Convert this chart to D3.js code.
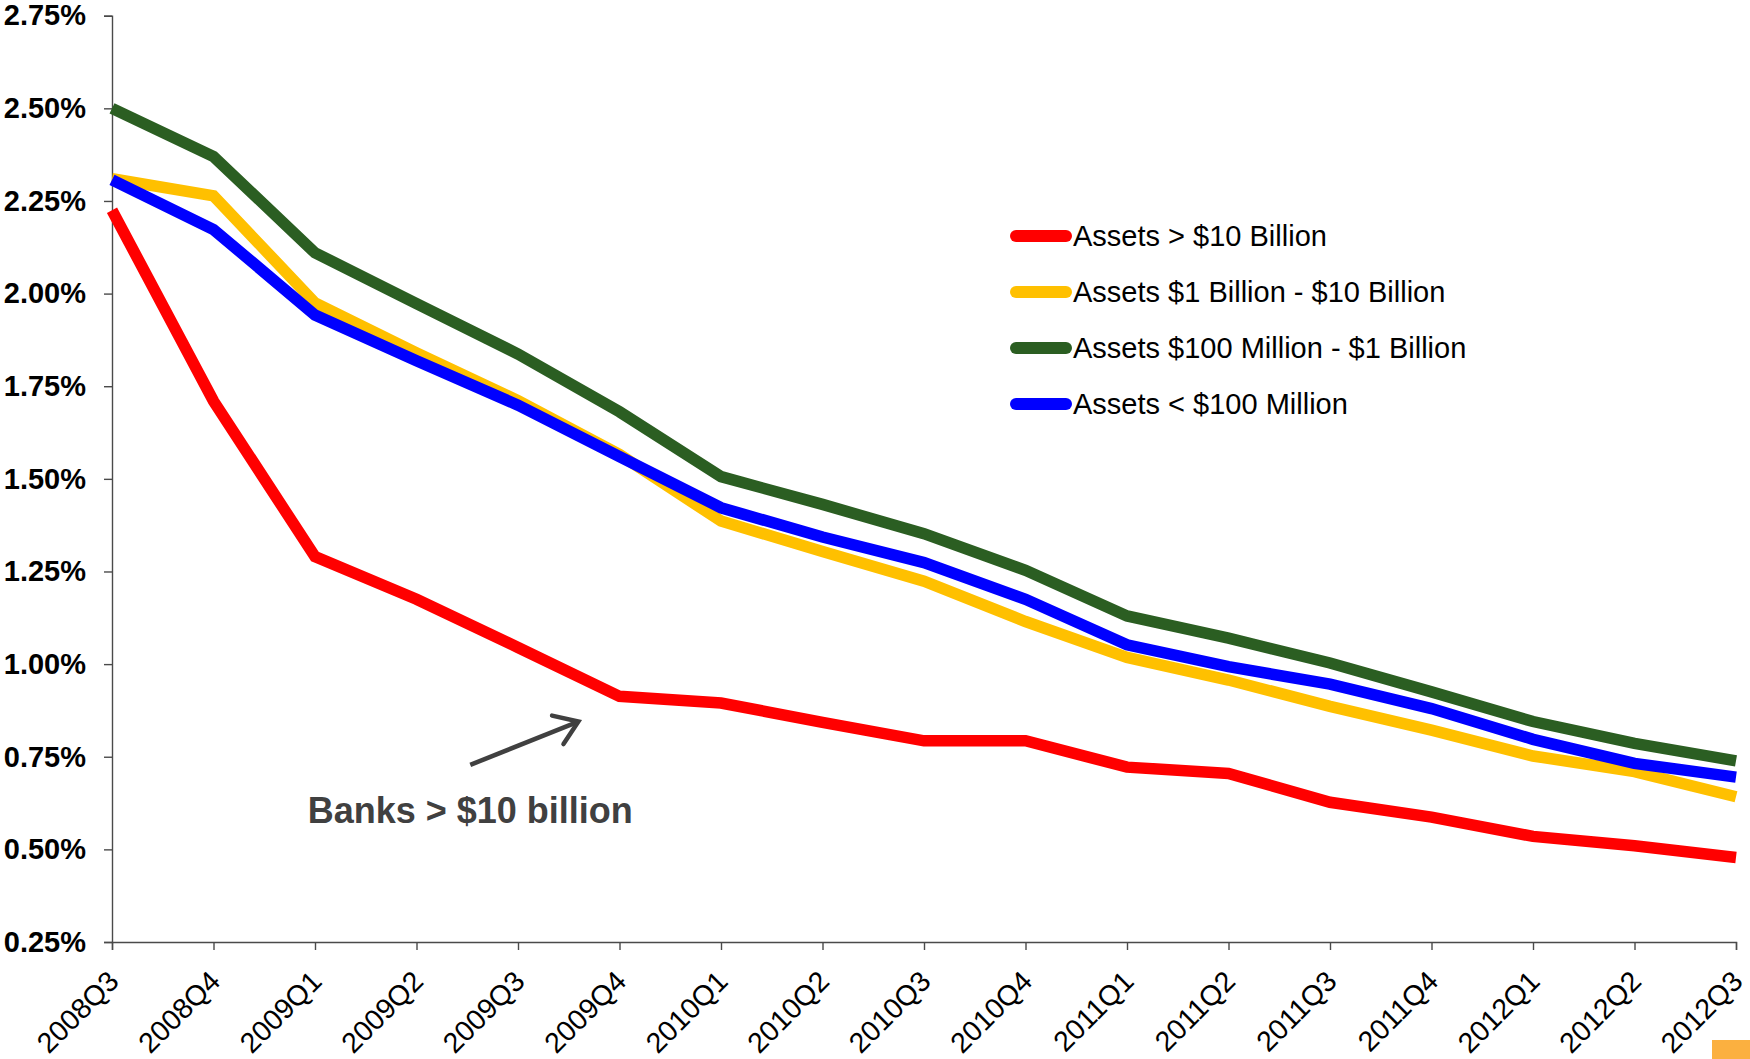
<!DOCTYPE html>
<html>
<head>
<meta charset="utf-8">
<script src="https://cdn.jsdelivr.net/npm/d3@7"></script>
<style>
  html, body { margin: 0; padding: 0; background: #ffffff; }
  svg { display: block; font-family: "Liberation Sans", Arial, sans-serif; }
</style>
</head>
<body>
<svg id="chart" width="1750" height="1059"></svg>
<script>
// Quarterly ratios (percent) by bank asset size
const quarters = ["2008Q3", "2008Q4", "2009Q1", "2009Q2", "2009Q3", "2009Q4",
  "2010Q1", "2010Q2", "2010Q3", "2010Q4", "2011Q1", "2011Q2", "2011Q3",
  "2011Q4", "2012Q1", "2012Q2", "2012Q3"];

const over10B = [2.225, 1.71, 1.29, 1.175, 1.045, 0.913, 0.895, 0.843, 0.793, 0.793,
  0.722, 0.705, 0.627, 0.587, 0.535, 0.51, 0.478];
const from1Bto10B = [2.31, 2.264, 1.975, 1.84, 1.711, 1.566, 1.386, 1.304, 1.224, 1.115,
  1.018, 0.957, 0.886, 0.822, 0.752, 0.71, 0.642];
const from100Mto1B = [2.50, 2.37, 2.11, 1.973, 1.837, 1.681, 1.506, 1.431, 1.352, 1.253,
  1.13, 1.07, 1.003, 0.925, 0.845, 0.786, 0.739];
const under100M = [2.307, 2.173, 1.942, 1.819, 1.699, 1.56, 1.422, 1.343, 1.274, 1.175,
  1.052, 0.993, 0.946, 0.88, 0.797, 0.732, 0.695];

const seriesNames = ["Assets > $10 Billion", "Assets $1 Billion - $10 Billion",
  "Assets $100 Million - $1 Billion", "Assets < $100 Million"];
const seriesColors = ["#ff0000", "#ffc000", "#2b5e22", "#0000ff"];
const seriesValues = [over10B, from1Bto10B, from100Mto1B, under100M];

const yTicks = [0.25, 0.5, 0.75, 1.0, 1.25, 1.5, 1.75, 2.0, 2.25, 2.5, 2.75];

const annotationText = "Banks > $10 billion";

const svg = d3.select("#chart");

const x = d3.scalePoint().domain(quarters).range([112, 1736]);
const y = d3.scaleLinear().domain([0.25, 2.75]).range([942, 15.7]);
// fractional quarter position, used for the callout
const xi = d3.scaleLinear().domain([0, quarters.length - 1]).range(x.range());

const axisColor = "#4a4a4a";

// Y axis
const yAxis = d3.axisLeft(y)
  .tickValues(yTicks)
  .tickSize(8)
  .tickPadding(18)
  .tickFormat(v => d3.format(".2%")(v / 100));
const gy = svg.append("g").attr("transform", `translate(${x.range()[0]},0)`).call(yAxis);
gy.select(".domain").attr("stroke", axisColor).attr("stroke-width", 1.4);
gy.selectAll(".tick line").attr("stroke", axisColor).attr("stroke-width", 1.4);
gy.selectAll(".tick text")
  .attr("fill", "#000")
  .style("font-size", "29px")
  .style("font-weight", "bold")
  .style("font-family", "'Liberation Sans', Arial, sans-serif");

// X axis
const xAxis = d3.axisBottom(x).tickSize(8).tickPadding(0);
const gx = svg.append("g").attr("transform", `translate(0,${y(0.25)})`).call(xAxis);
gx.select(".domain").attr("stroke", axisColor).attr("stroke-width", 1.4);
gx.selectAll(".tick line").attr("stroke", axisColor).attr("stroke-width", 1.4);
gx.selectAll(".tick text")
  .attr("fill", "#000")
  .attr("text-anchor", "end")
  .attr("dy", null)
  .attr("y", null)
  .attr("transform", "translate(8,41) rotate(-45)")
  .style("font-size", "28.5px")
  .style("font-family", "'Liberation Sans', Arial, sans-serif");

// Series lines
const line = d3.line()
  .x((d, i) => x(quarters[i]))
  .y(d => y(d));

svg.append("g").selectAll("path")
  .data(seriesValues)
  .join("path")
  .attr("d", d => line(d))
  .attr("fill", "none")
  .attr("stroke", (d, i) => seriesColors[i])
  .attr("stroke-width", 11.5)
  .attr("stroke-linejoin", "miter")
  .attr("stroke-linecap", "butt");

// Legend
const legend = svg.append("g").attr("transform", "translate(1016,236)");
const rows = legend.selectAll("g").data(seriesNames).join("g")
  .attr("transform", (d, i) => `translate(0,${i * 56})`);
rows.append("line")
  .attr("x1", 0).attr("x2", 50).attr("y1", 0).attr("y2", 0)
  .attr("stroke", (d, i) => seriesColors[i])
  .attr("stroke-width", 12)
  .attr("stroke-linecap", "round");
rows.append("text")
  .attr("x", 57).attr("y", 10)
  .attr("fill", "#000")
  .style("font-size", "29px")
  .text(d => d);

// Callout pointing at the large-bank series
const calloutColor = "#404040";
const ax0 = xi(3.53), ay0 = y(0.728), ax1 = xi(4.595), ay1 = y(0.845);
const ang = Math.atan2(ay1 - ay0, ax1 - ax0);
const head = 27, spread = Math.PI / 5.2;
svg.append("line")
  .attr("x1", ax0).attr("y1", ay0).attr("x2", ax1).attr("y2", ay1)
  .attr("stroke", calloutColor).attr("stroke-width", 4.5);
svg.append("path")
  .attr("d", `M${ax1 - head * Math.cos(ang - spread)},${ay1 - head * Math.sin(ang - spread)}
              L${ax1},${ay1}
              L${ax1 - head * Math.cos(ang + spread)},${ay1 - head * Math.sin(ang + spread)}`)
  .attr("fill", "none")
  .attr("stroke", calloutColor)
  .attr("stroke-width", 4.5)
  .attr("stroke-linejoin", "miter")
  .attr("stroke-linecap", "round");
svg.append("text")
  .attr("x", xi(3.53)).attr("y", y(0.572))
  .attr("text-anchor", "middle")
  .attr("fill", calloutColor)
  .style("font-size", "36px")
  .style("font-weight", "bold")
  .text(annotationText);

// Corner marker
svg.append("rect")
  .attr("x", 1712).attr("y", 1040).attr("width", 38).attr("height", 19)
  .attr("fill", "#fbb040");
</script>
</body>
</html>
